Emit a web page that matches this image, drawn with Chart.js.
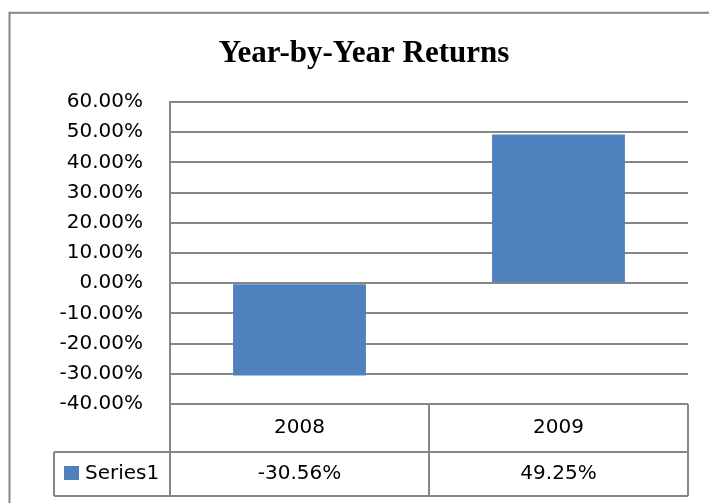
<!DOCTYPE html>
<html lang="en">
<head>
    <meta charset="UTF-8">
    <title>Year-by-Year Returns</title>
    <script src="https://cdn.jsdelivr.net/npm/chart.js"></script>
    <style>
        body { margin: 0; padding: 0; background: #fff; }
        #chart { display: block; }
    </style>
</head>
<body>
<canvas id="chart" width="709" height="503"></canvas>
<script>
    // chart data
    const titleText = 'Year-by-Year Returns';
    const years = ['2008', '2009'];
    const seriesName = 'Series1';
    const returns = [-30.56, 49.25];

    const labelFont = "'DejaVu Sans', sans-serif";
    const lineGray = '#868686';
    const barBlue = '#4F81BD';

    const fmt = v => v.toFixed(2) + '%';

    // frame, title and the data table under the plot
    const tablePlugin = {
        id: 'tablePlugin',
        beforeDraw(chart) {
            const c = chart.ctx;
            c.save();
            c.strokeStyle = lineGray;
            c.lineWidth = 2;
            c.strokeRect(9.5, 12.8, 720, 520);
            c.restore();
        },
        afterDraw(chart) {
            const c = chart.ctx;
            const area = chart.chartArea;
            const x = chart.scales.x;
            const left = area.left, right = area.right;
            const row1 = area.bottom, row2 = 452, row3 = 496;
            const legendLeft = 54;

            c.save();
            // title
            c.fillStyle = '#000';
            c.font = "bold 31px 'Liberation Serif', 'Times New Roman', serif";
            c.textAlign = 'center';
            c.textBaseline = 'alphabetic';
            c.fillText(titleText, 364, 62);

            // table lines
            c.strokeStyle = lineGray;
            c.lineWidth = 2;
            c.beginPath();
            c.moveTo(left, row1); c.lineTo(left, row3);
            c.moveTo(left, row1); c.lineTo(right, row1);
            c.moveTo(legendLeft, row2); c.lineTo(right, row2);
            c.moveTo(legendLeft, row3); c.lineTo(right, row3);
            c.moveTo(legendLeft, row2); c.lineTo(legendLeft, row3);
            c.moveTo(right, row1); c.lineTo(right, row3);
            for (let i = 1; i < years.length; i++) {
                const xb = (x.getPixelForValue(i - 1) + x.getPixelForValue(i)) / 2;
                c.moveTo(xb, row1); c.lineTo(xb, row3);
            }
            c.stroke();

            // table text
            c.fillStyle = '#000';
            c.font = '20px ' + labelFont;
            c.textBaseline = 'middle';
            years.forEach((y, i) => {
                const cx = x.getPixelForValue(i);
                c.fillText(y, cx, (row1 + row2) / 2);
                c.fillText(fmt(returns[i]), cx, (row2 + row3) / 2);
            });

            // legend key
            c.fillStyle = barBlue;
            c.fillRect(64, 466, 15, 14);
            c.fillStyle = '#000';
            c.textAlign = 'left';
            c.fillText(seriesName, 85, (row2 + row3) / 2);
            c.restore();
        }
    };

    new Chart(document.getElementById('chart'), {
        type: 'bar',
        data: {
            labels: years,
            datasets: [{
                label: seriesName,
                data: returns,
                backgroundColor: barBlue,
                borderWidth: 0,
                categoryPercentage: 1,
                barPercentage: 0.513
            }]
        },
        options: {
            responsive: false,
            animation: false,
            layout: { padding: { left: 0, right: 21, top: 102, bottom: 99 } },
            plugins: {
                legend: { display: false },
                title: { display: false },
                tooltip: { enabled: false }
            },
            scales: {
                x: { display: false },
                y: {
                    min: -40,
                    max: 60,
                    ticks: {
                        stepSize: 10,
                        color: '#000',
                        font: { family: labelFont, size: 20 },
                        padding: 27,
                        callback: v => fmt(v)
                    },
                    grid: { color: lineGray, lineWidth: 2, drawTicks: false },
                    border: { color: lineGray, width: 2 },
                    afterFit: s => { s.width = 170; }
                }
            }
        },
        plugins: [tablePlugin]
    });
</script>
</body>
</html>
